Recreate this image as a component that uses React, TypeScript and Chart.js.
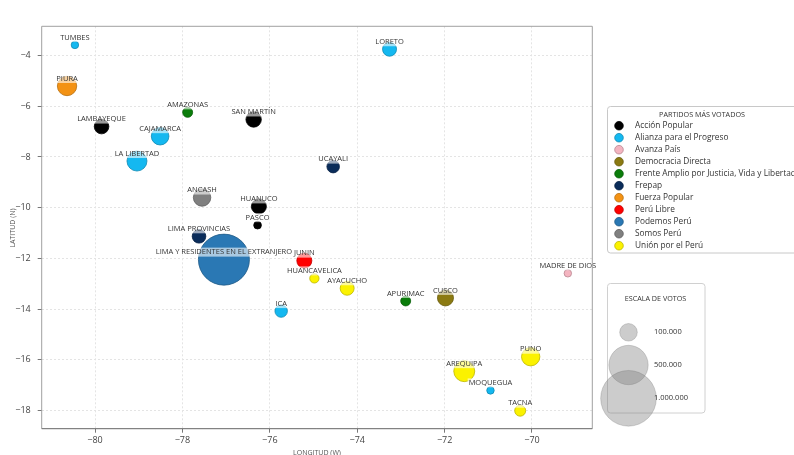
import React, { useEffect, useRef } from 'react';
import { Chart, registerables } from 'chart.js';

Chart.register(...registerables);

const departments = [
  'TUMBES', 'PIURA', 'LAMBAYEQUE', 'AMAZONAS', 'CAJAMARCA', 'LA LIBERTAD', 'SAN MARTÍN', 'LORETO',
  'UCAYALI', 'ANCASH', 'HUANUCO', 'PASCO', 'LIMA PROVINCIAS', 'LIMA Y RESIDENTES EN EL EXTRANJERO',
  'JUNIN', 'HUANCAVELICA', 'AYACUCHO', 'ICA', 'APURIMAC', 'CUSCO', 'MADRE DE DIOS', 'PUNO',
  'AREQUIPA', 'MOQUEGUA', 'TACNA',
];
const longitudes = [
  -80.46, -80.64, -79.85, -77.88, -78.51, -79.04, -76.37, -73.26,
  -74.55, -77.55, -76.25, -76.28, -77.62, -77.05,
  -75.21, -74.98, -74.23, -75.74, -72.89, -71.98, -69.18, -70.03,
  -71.55, -70.95, -70.27,
];
const latitudes = [
  -3.58, -5.2, -6.8, -6.24, -7.18, -8.16, -6.52, -3.75,
  -8.38, -9.6, -9.95, -10.69, -11.13, -12.05,
  -12.09, -12.79, -13.18, -14.08, -13.68, -13.56, -12.59, -15.88,
  -16.45, -17.21, -18.01,
];
const votes = [
  18000, 121000, 69000, 32000, 100000, 129000, 77000, 63000,
  51000, 98000, 73000, 19000, 60000, 840000,
  73000, 28000, 63000, 50000, 32000, 83000, 18000, 109000,
  142000, 18000, 39000,
];
const winners = [
  'Alianza para el Progreso', 'Fuerza Popular', 'Acción Popular', 'Frente Amplio por Justicia, Vida y Libertad',
  'Alianza para el Progreso', 'Alianza para el Progreso', 'Acción Popular', 'Alianza para el Progreso',
  'Frepap', 'Somos Perú', 'Acción Popular', 'Acción Popular', 'Frepap', 'Podemos Perú',
  'Perú Libre', 'Unión por el Perú', 'Unión por el Perú', 'Alianza para el Progreso',
  'Frente Amplio por Justicia, Vida y Libertad', 'Democracia Directa', 'Avanza País', 'Unión por el Perú',
  'Unión por el Perú', 'Alianza para el Progreso', 'Unión por el Perú',
];
const parties = [
  'Acción Popular', 'Alianza para el Progreso', 'Avanza País', 'Democracia Directa',
  'Frente Amplio por Justicia, Vida y Libertad', 'Frepap', 'Fuerza Popular', 'Perú Libre',
  'Podemos Perú', 'Somos Perú', 'Unión por el Perú',
];
const partyColors = [
  '#000000', '#14b8f0', '#f4b4c0', '#8b7a12', '#0b7d0b', '#0a2c5a', '#f39214', '#ff0000',
  '#2a78b4', '#808080', '#fbf200',
];
const xTicks = [-80, -78, -76, -74, -72, -70];
const yTicks = [-18, -16, -14, -12, -10, -8, -6, -4];
const scaleVotes = [100000, 500000, 1000000];
const scaleLabels = ['100.000', '500.000', '1.000.000'];

const FONT = '"Open Sans", sans-serif';
const radiusFor = (v: number) => 8.8 * Math.sqrt(v / 100000);

const darken = (hex: string, f = 0.75) => {
  const n = parseInt(hex.slice(1), 16);
  const r = Math.round(((n >> 16) & 255) * f);
  const g = Math.round(((n >> 8) & 255) * f);
  const b = Math.round((n & 255) * f);
  return `rgb(${r},${g},${b})`;
};
const colorOf = (party: string) => partyColors[parties.indexOf(party)];

const roundRect = (ctx: CanvasRenderingContext2D, x: number, y: number, w: number, h: number, r: number) => {
  ctx.beginPath();
  ctx.moveTo(x + r, y);
  ctx.lineTo(x + w - r, y);
  ctx.arcTo(x + w, y, x + w, y + r, r);
  ctx.lineTo(x + w, y + h - r);
  ctx.arcTo(x + w, y + h, x + w - r, y + h, r);
  ctx.lineTo(x + r, y + h);
  ctx.arcTo(x, y + h, x, y + h - r, r);
  ctx.lineTo(x, y + r);
  ctx.arcTo(x, y, x + r, y, r);
  ctx.closePath();
};

const overlayPlugin = {
  id: 'overlay',
  afterDatasetsDraw(chart: any) {
    const ctx: CanvasRenderingContext2D = chart.ctx;
    const meta = chart.getDatasetMeta(0);
    ctx.save();
    ctx.font = `7.5px ${FONT}`;
    ctx.textAlign = 'center';
    ctx.textBaseline = 'middle';
    meta.data.forEach((el: any, i: number) => {
      const label = departments[i];
      const x = el.x;
      const y = el.y - 7.5;
      const w = ctx.measureText(label).width;
      ctx.fillStyle = 'rgba(255,255,255,0.6)';
      ctx.fillRect(x - w / 2 - 1, y - 4.5, w + 2, 9);
      ctx.fillStyle = '#333';
      ctx.fillText(label, x, y);
    });
    ctx.restore();
  },
  afterDraw(chart: any) {
    const ctx: CanvasRenderingContext2D = chart.ctx;
    const { left, right, top, bottom } = chart.chartArea;
    ctx.save();
    // frame
    ctx.lineWidth = 1;
    ctx.strokeStyle = '#a0a0a0';
    ctx.beginPath();
    ctx.moveTo(left, bottom);
    ctx.lineTo(left, top);
    ctx.lineTo(right, top);
    ctx.lineTo(right, bottom);
    ctx.stroke();
    ctx.strokeStyle = '#666';
    ctx.beginPath();
    ctx.moveTo(left, bottom);
    ctx.lineTo(right, bottom);
    ctx.stroke();

    // axis titles
    ctx.fillStyle = '#555';
    ctx.font = `7px ${FONT}`;
    ctx.textAlign = 'center';
    ctx.textBaseline = 'middle';
    ctx.fillText('LONGITUD (W)', (left + right) / 2, 452.5);
    ctx.save();
    ctx.translate(13, 228);
    ctx.rotate(-Math.PI / 2);
    ctx.fillText('LATITUD (N)', 0, 0);
    ctx.restore();

    // party legend
    ctx.fillStyle = '#fff';
    ctx.strokeStyle = '#c8c8c8';
    roundRect(ctx, 607.5, 106.5, 192, 146.5, 3);
    ctx.fill();
    ctx.stroke();
    ctx.fillStyle = '#333';
    ctx.font = `7.2px ${FONT}`;
    ctx.textAlign = 'center';
    ctx.fillText('PARTIDOS MÁS VOTADOS', 702, 115);
    ctx.font = `8.3px ${FONT}`;
    ctx.textAlign = 'left';
    parties.forEach((p, i) => {
      const y = 125.7 + i * 12;
      ctx.beginPath();
      ctx.arc(619, y, 4.3, 0, Math.PI * 2);
      ctx.fillStyle = partyColors[i];
      ctx.fill();
      ctx.strokeStyle = darken(partyColors[i]);
      ctx.lineWidth = 0.8;
      ctx.stroke();
      ctx.fillStyle = '#333';
      ctx.fillText(p, 635, y);
    });

    // size legend
    ctx.lineWidth = 1;
    ctx.fillStyle = '#fff';
    ctx.strokeStyle = '#d0d0d0';
    roundRect(ctx, 607.5, 283.5, 97.5, 129.5, 3);
    ctx.fill();
    ctx.stroke();
    ctx.fillStyle = '#333';
    ctx.font = `7.2px ${FONT}`;
    ctx.textAlign = 'center';
    ctx.fillText('ESCALA DE VOTOS', 655.5, 299);
    const cys = [332.3, 365, 398.3];
    scaleVotes.forEach((v, i) => {
      ctx.beginPath();
      ctx.arc(628.5, cys[i], radiusFor(v), 0, Math.PI * 2);
      ctx.fillStyle = 'rgba(128,128,128,0.4)';
      ctx.fill();
      ctx.strokeStyle = 'rgba(110,110,110,0.35)';
      ctx.lineWidth = 0.8;
      ctx.stroke();
    });
    ctx.fillStyle = '#333';
    ctx.font = `7.5px ${FONT}`;
    ctx.textAlign = 'left';
    scaleLabels.forEach((t, i) => ctx.fillText(t, 654, cys[i]));
    ctx.restore();
  },
};

export default function App() {
  const ref = useRef<HTMLCanvasElement>(null);
  useEffect(() => {
    if (!ref.current) return;
    const fmt = (v: any) => (v < 0 ? '\u2212' + Math.abs(v) : String(v));
    const chart = new Chart(ref.current, {
      type: 'bubble',
      data: {
        datasets: [
          {
            data: departments.map((_, i) => ({ x: longitudes[i], y: latitudes[i], r: radiusFor(votes[i]) })),
            backgroundColor: winners.map((w) => colorOf(w)),
            borderColor: winners.map((w) => darken(colorOf(w))),
            borderWidth: 0.8,
          },
        ],
      },
      options: {
        responsive: false,
        animation: false,
        events: [],
        layout: { padding: { top: 12.7, right: 201.7, left: 0, bottom: 0 } },
        plugins: { legend: { display: false }, tooltip: { enabled: false } },
        scales: {
          x: {
            type: 'linear',
            min: -81.22,
            max: -68.62,
            afterBuildTicks: (s: any) => {
              s.ticks = xTicks.map((v) => ({ value: v }));
            },
            afterFit: (s: any) => {
              s.height = 21.7;
            },
            grid: { color: '#e4e4e4', tickColor: '#777', tickLength: 4, drawTicks: true, tickBorderDash: [] },
            border: { display: false, dash: [2, 2] },
            ticks: { font: { family: FONT, size: 9 }, color: '#444', padding: 2, maxRotation: 0, callback: fmt },
          },
          y: {
            type: 'linear',
            min: -18.72,
            max: -2.845,
            afterBuildTicks: (s: any) => {
              s.ticks = yTicks.map((v) => ({ value: v }));
            },
            afterFit: (s: any) => {
              s.width = 41.7;
            },
            grid: { color: '#e4e4e4', tickColor: '#777', tickLength: 4, drawTicks: true, tickBorderDash: [] },
            border: { display: false, dash: [2, 2] },
            ticks: { font: { family: FONT, size: 9 }, color: '#444', padding: 7, callback: fmt },
          },
        },
      },
      plugins: [overlayPlugin],
    } as any);
    return () => chart.destroy();
  }, []);
  return (
    <div style={{ position: 'absolute', left: 0, top: 0, width: 794, height: 455, background: '#fff' }}>
      <canvas ref={ref} width={794} height={455} style={{ width: 794, height: 455, display: 'block' }} />
    </div>
  );
}
